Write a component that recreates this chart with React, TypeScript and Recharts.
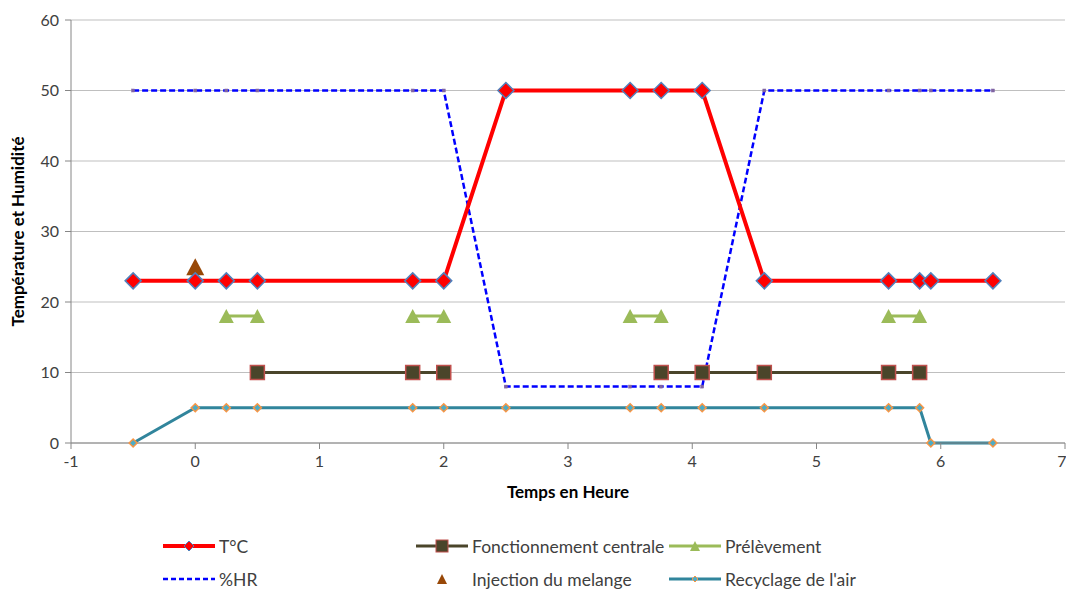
import { LineChart, Line, XAxis, YAxis, CartesianGrid } from "recharts";

const TIMES = [-0.5, 0, 0.25, 0.5, 1.75, 2, 2.5, 3.5, 3.75, 4.08, 4.58, 5.58, 5.83, 5.92, 6.42];
const TEMP = [23, 23, 23, 23, 23, 23, 50, 50, 50, 50, 23, 23, 23, 23, 23];
const HUMIDITE = [50, 50, 50, 50, 50, 50, 8, 8, 8, 8, 50, 50, 50, 50, 50];
const RECYCLAGE = [0, 5, 5, 5, 5, 5, 5, 5, 5, 5, 5, 5, 5, 0, 0];

const FONCT_TIMES = [0.5, 1.75, 2, 2.5, 3.75, 4.08, 4.58, 5.58, 5.83];
const FONCT = [10, 10, 10, null, 10, 10, 10, 10, 10];

const PRELEV_TIMES = [0.25, 0.5, 1, 1.75, 2, 2.5, 3.5, 3.75, 4.58, 5.58, 5.83];
const PRELEV = [18, 18, null, 18, 18, null, 18, 18, null, 18, 18];

const INJECTION_TIMES = [0];
const INJECTION = [25];

const X_TICKS = [-1, 0, 1, 2, 3, 4, 5, 6, 7];
const Y_TICKS = [0, 10, 20, 30, 40, 50, 60];

const FONT = "Lato, 'Open Sans', sans-serif";

const zip = (xs: number[], ys: (number | null)[]) => xs.map((x, i) => ({ x, y: ys[i] }));

const tempData = zip(TIMES, TEMP);
const hrData = zip(TIMES, HUMIDITE);
const recData = zip(TIMES, RECYCLAGE);
const fonctData = zip(FONCT_TIMES, FONCT);
const prelevData = zip(PRELEV_TIMES, PRELEV);
const injData = zip(INJECTION_TIMES, INJECTION);

type DotProps = { cx?: number | null; cy?: number | null; index?: number; key?: string };

const ok = (p: DotProps) => p.cx != null && p.cy != null && !isNaN(p.cx) && !isNaN(p.cy);

const diamond = (r: number, fill: string, stroke: string, sw: number) => (p: DotProps) => {
  if (!ok(p)) return <g key={p.key ?? p.index} />;
  const cx = p.cx as number;
  const cy = p.cy as number;
  return (
    <polygon
      key={p.key ?? p.index}
      points={`${cx},${cy - r} ${cx + r},${cy} ${cx},${cy + r} ${cx - r},${cy}`}
      fill={fill}
      stroke={stroke}
      strokeWidth={sw}
    />
  );
};

const square = (h: number, fill: string, stroke: string, sw: number) => (p: DotProps) => {
  if (!ok(p)) return <g key={p.key ?? p.index} />;
  return (
    <rect
      key={p.key ?? p.index}
      x={(p.cx as number) - h}
      y={(p.cy as number) - h}
      width={h * 2}
      height={h * 2}
      fill={fill}
      stroke={stroke}
      strokeWidth={sw}
    />
  );
};

const triangle = (w: number, h: number, fill: string) => (p: DotProps) => {
  if (!ok(p)) return <g key={p.key ?? p.index} />;
  const cx = p.cx as number;
  const cy = p.cy as number;
  return (
    <polygon
      key={p.key ?? p.index}
      points={`${cx},${cy - h / 2} ${cx + w / 2},${cy + h / 2} ${cx - w / 2},${cy + h / 2}`}
      fill={fill}
    />
  );
};

const legendItems = [
  { name: "T°C", kind: "temp" },
  { name: "Fonctionnement centrale", kind: "fonct" },
  { name: "Prélèvement", kind: "prelev" },
  { name: "%HR", kind: "hr" },
  { name: "Injection du melange", kind: "inj" },
  { name: "Recyclage de l'air", kind: "rec" },
];

function LegendIcon({ kind }: { kind: string }) {
  return (
    <svg width={54} height={16} style={{ display: "block" }}>
      {kind === "temp" && (
        <>
          <line x1={1} y1={8} x2={53} y2={8} stroke="#FF0000" strokeWidth={4} />
          <polygon points="27,3 32,8 27,13 22,8" fill="#FF0000" stroke="#4F81BD" strokeWidth={1} />
        </>
      )}
      {kind === "fonct" && (
        <>
          <line x1={1} y1={8} x2={53} y2={8} stroke="#4A452A" strokeWidth={3} />
          <rect x={21} y={2} width={12} height={12} fill="#4A452A" stroke="#C0504D" strokeWidth={1} />
        </>
      )}
      {kind === "prelev" && (
        <>
          <line x1={1} y1={8} x2={53} y2={8} stroke="#9BBB59" strokeWidth={3} />
          <polygon points="27,3 32,13 22,13" fill="#9BBB59" />
        </>
      )}
      {kind === "hr" && (
        <line x1={1} y1={8} x2={53} y2={8} stroke="#0000FF" strokeWidth={2.5} strokeDasharray="5 3" />
      )}
      {kind === "inj" && <polygon points="27,3 32,13 22,13" fill="#984807" />}
      {kind === "rec" && (
        <>
          <line x1={1} y1={8} x2={53} y2={8} stroke="#31859C" strokeWidth={3} />
          <polygon points="27,5 30,8 27,11 24,8" fill="#4BACC6" stroke="#F79646" strokeWidth={1} />
        </>
      )}
    </svg>
  );
}

export default function App() {
  return (
    <div style={{ position: "absolute", left: 0, top: 0, width: 1066, height: 590, background: "#fff", fontFamily: FONT }}>
      <LineChart width={1066} height={590} margin={{ top: 20, right: 1, left: 0, bottom: 117 }}>
        <CartesianGrid vertical={false} stroke="#BFBFBF" />
        <XAxis
          type="number"
          dataKey="x"
          domain={[-1, 7]}
          ticks={X_TICKS}
          allowDataOverflow
          height={30}
          tickSize={6}
          tickMargin={7}
          stroke="#868686"
          tick={{ fill: "#404040", fontSize: 16, fontFamily: FONT }}
          label={{
            value: "Temps en Heure",
            position: "bottom",
            offset: 13,
            style: { fontWeight: 700, fontSize: 17, fill: "#000", fontFamily: FONT },
          }}
        />
        <YAxis
          type="number"
          domain={[0, 60]}
          ticks={Y_TICKS}
          width={71}
          tickSize={6}
          tickMargin={6}
          stroke="#868686"
          tick={{ fill: "#404040", fontSize: 16, fontFamily: FONT }}
          label={{
            value: "Température et Humidité",
            angle: -90,
            position: "insideLeft",
            offset: 18,
            style: { fontWeight: 700, fontSize: 17, fill: "#000", textAnchor: "middle", fontFamily: FONT },
          }}
        />
        <Line
          data={recData}
          dataKey="y"
          type="linear"
          stroke="#31859C"
          strokeWidth={3}
          dot={diamond(4, "#4BACC6", "#F79646", 1.5)}
          isAnimationActive={false}
        />
        <Line
          data={fonctData}
          dataKey="y"
          type="linear"
          stroke="#4A452A"
          strokeWidth={3}
          dot={square(7, "#4A452A", "#C0504D", 1.5)}
          isAnimationActive={false}
        />
        <Line
          data={prelevData}
          dataKey="y"
          type="linear"
          stroke="#9BBB59"
          strokeWidth={3}
          dot={triangle(15, 14, "#9BBB59")}
          isAnimationActive={false}
        />
        <Line
          data={injData}
          dataKey="y"
          type="linear"
          stroke="none"
          dot={triangle(18, 17, "#984807")}
          isAnimationActive={false}
        />
        <Line
          data={hrData}
          dataKey="y"
          type="linear"
          stroke="#0000FF"
          strokeWidth={2.5}
          strokeDasharray="6 3"
          dot={square(1.5, "#8064A2", "#8064A2", 0.5)}
          isAnimationActive={false}
        />
        <Line
          data={tempData}
          dataKey="y"
          type="linear"
          stroke="#FF0000"
          strokeWidth={4}
          dot={diamond(8, "#FF0000", "#4F81BD", 1.5)}
          isAnimationActive={false}
        />
      </LineChart>
      <div
        style={{
          position: "absolute",
          left: 162,
          top: 535,
          display: "grid",
          gridTemplateColumns: "253px 253px 300px",
          gridAutoRows: "33px",
          fontSize: 17.5,
          color: "#404040",
        }}
      >
        {legendItems.map((it) => (
          <div key={it.name} style={{ display: "flex", alignItems: "center", height: 22 }}>
            <LegendIcon kind={it.kind} />
            <span style={{ marginLeft: 3, whiteSpace: "nowrap" }}>{it.name}</span>
          </div>
        ))}
      </div>
    </div>
  );
}
